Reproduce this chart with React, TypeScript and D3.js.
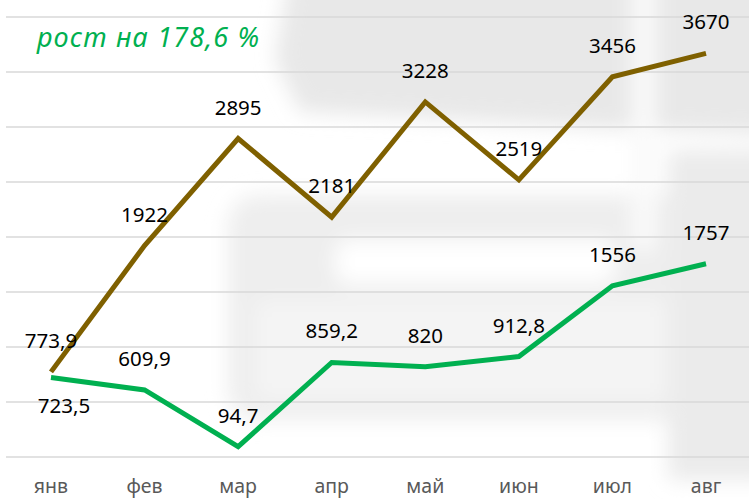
import React from "react";
import * as d3 from "d3";

const months = ["янв", "фев", "мар", "апр", "май", "июн", "июл", "авг"];
const seriesBrown = [773.9, 1922, 2895, 2181, 3228, 2519, 3456, 3670];
const seriesGreen = [723.5, 609.9, 94.7, 859.2, 820, 912.8, 1556, 1757];
const brownLabels = ["773,9", "1922", "2895", "2181", "3228", "2519", "3456", "3670"];
const greenLabels = ["723,5", "609,9", "94,7", "859,2", "820", "912,8", "1556", "1757"];
const gridTicks = [0, 500, 1000, 1500, 2000, 2500, 3000, 3500, 4000];
const title = "рост на 178,6 %";

const W = 749;
const H = 499;

export default function App() {
  const x = d3.scaleBand<string>().domain(months).range([4.2, 752.8]);
  const cx = (m: string) => (x(m) as number) + x.bandwidth() / 2;
  const y = d3.scaleLinear().domain([0, 4000]).range([457, 17]);

  const line = d3
    .line<number>()
    .x((_, i) => cx(months[i]))
    .y((d) => y(d));

  const font = "'Noto Sans', 'Open Sans', sans-serif";

  return (
    <svg
      width={W}
      height={H}
      style={{ position: "absolute", left: 0, top: 0, background: "#fff" }}
      fontFamily={font}
    >
      <defs>
        <filter id="blur" filterUnits="userSpaceOnUse" x={-50} y={-50} width={W + 100} height={H + 100}>
          <feGaussianBlur stdDeviation="10" />
        </filter>
      </defs>
      {/* faint background picture */}
      <g filter="url(#blur)">
        <path d="M290,-30 L780,-30 L780,135 L600,128 L420,118 L300,112 L275,60 Z" fill="#e8e8e8" />
        <rect x={228} y={195} width={520} height={225} rx={30} fill="#eeeeee" />
        <rect x={335} y={240} width={280} height={44} rx={14} fill="#ffffff" />
        <rect x={255} y={300} width={420} height={100} rx={10} fill="#f4f4f4" />
        <rect x={632} y={-30} width={24} height={280} fill="#fafafa" />
        <rect x={668} y={150} width={100} height={330} fill="#ebebeb" />
      </g>
      {/* gridlines */}
      {gridTicks.map((t) => (
        <line key={t} x1={6} x2={W} y1={y(t)} y2={y(t)} stroke="#d9d9d9" strokeWidth={1.5} />
      ))}
      {/* lines */}
      <path d={line(seriesBrown) || ""} fill="none" stroke="#7f6000" strokeWidth={5} strokeLinejoin="miter" />
      <path d={line(seriesGreen) || ""} fill="none" stroke="#00b050" strokeWidth={5} strokeLinejoin="miter" />
      {/* data labels */}
      {seriesBrown.map((v, i) => (
        <text key={"b" + i} x={cx(months[i])} y={y(v) - 24} textAnchor="middle" fontSize={20.5} fill="#000">
          {brownLabels[i]}
        </text>
      ))}
      {seriesGreen.map((v, i) => {
        const below = i === 0;
        return (
          <text
            key={"g" + i}
            x={cx(months[i]) + (below ? 13 : 0)}
            y={below ? y(v) + 36 : y(v) - 24}
            textAnchor="middle"
            fontSize={20.5}
            fill="#000"
          >
            {greenLabels[i]}
          </text>
        );
      })}
      {/* x axis labels */}
      {months.map((m) => (
        <text key={m} x={cx(m)} y={493} textAnchor="middle" fontSize={19.5} fill="#595959">
          {m}
        </text>
      ))}
      {/* title */}
      <text x={37} y={47} fontSize={27} fontStyle="italic" fill="#00b050" textLength={222} lengthAdjust="spacing">
        {title}
      </text>
    </svg>
  );
}
